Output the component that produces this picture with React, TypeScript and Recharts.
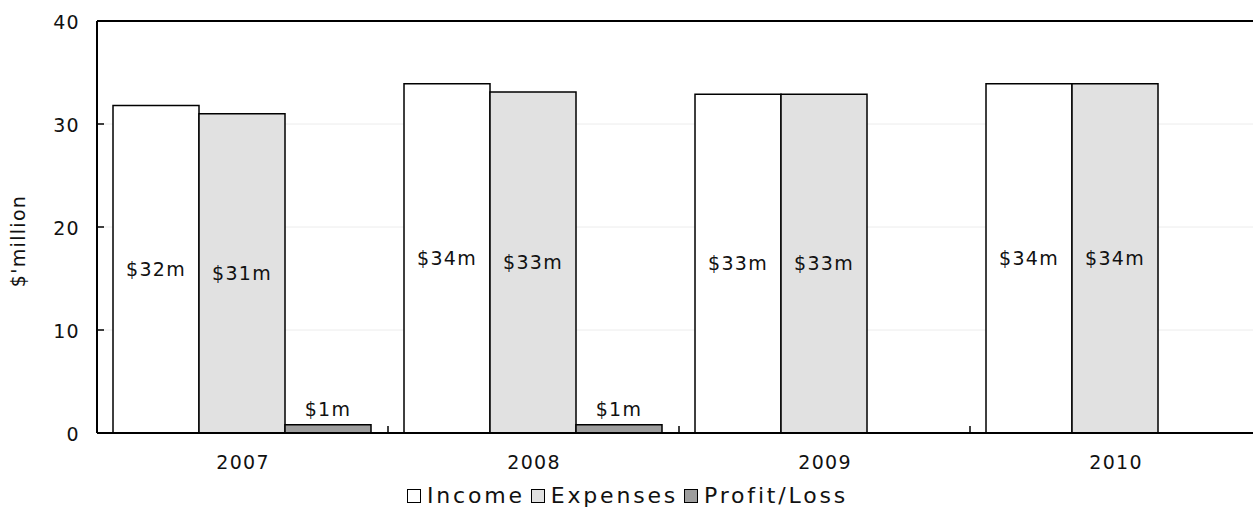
import React from 'react';
import { BarChart, Bar, XAxis, YAxis, CartesianGrid, Legend, LabelList, ReferenceLine } from 'recharts';

// Annual figures, $ million
const years = ['2007', '2008', '2009', '2010'];
const income = [31.8, 33.9, 32.9, 33.9];
const expenses = [31.0, 33.1, 32.9, 33.9];
const profitLoss = [0.8, 0.8, 0, 0];
const seriesNames = ['Income', 'Expenses', 'Profit/Loss'];
const yTicks = [0, 10, 20, 30, 40];

const data = years.map((year, i) => ({
  year,
  income: income[i],
  expenses: expenses[i],
  profit: profitLoss[i],
}));

const FONT = '"DejaVu Sans", Verdana, sans-serif';
const textStyle = { fontSize: 19, letterSpacing: 1.3, fill: '#111' };

const money = (v: any) => (Number(v) > 0 ? `$${Math.round(Number(v))}m` : '');

function YTick({ x, y, payload }: any) {
  return (
    <g>
      <line x1={x} x2={x + 7} y1={y} y2={y} stroke="#000" strokeWidth={1.5} />
      <text x={x - 17} y={y + 8} textAnchor="end" style={textStyle}>
        {payload.value}
      </text>
    </g>
  );
}

// year label at the band centre, small inward tick at the band's right edge
function XTick({ x, y, width, payload }: any) {
  const half = Number(width) / years.length / 2;
  return (
    <g>
      {half > 0 && (
        <line x1={x + half} x2={x + half} y1={y} y2={y - 7} stroke="#000" strokeWidth={1.5} />
      )}
      <text x={x + 0.6} y={y + 36} textAnchor="middle" style={textStyle}>
        {payload.value}
      </text>
    </g>
  );
}

function YLabel({ viewBox }: any) {
  const cx = viewBox.x + 25;
  const cy = viewBox.y + viewBox.height / 2 + 14;
  return (
    <text x={cx} y={cy} transform={`rotate(-90 ${cx} ${cy})`} textAnchor="middle" style={textStyle}>
      $'million
    </text>
  );
}

function LegendRow({ payload }: any) {
  const items = [...(payload || [])].sort(
    (a: any, b: any) => seriesNames.indexOf(a.value) - seriesNames.indexOf(b.value),
  );
  return (
    <div
      style={{
        display: 'flex',
        justifyContent: 'center',
        alignItems: 'center',
        fontSize: 22,
        letterSpacing: 2.8,
        color: '#111',
        fontFamily: FONT,
      }}
    >
      {items.map((entry: any) => (
        <span key={entry.value} style={{ display: 'flex', alignItems: 'center', marginRight: 6 }}>
          <span
            style={{
              width: 12,
              height: 12,
              border: '1.5px solid #000',
              background: entry.color,
              marginRight: 6,
              display: 'inline-block',
            }}
          />
          {entry.value}
        </span>
      ))}
    </div>
  );
}

export default function App() {
  return (
    <div
      style={{
        position: 'absolute',
        left: 0,
        top: 0,
        width: 1253,
        height: 512,
        overflow: 'hidden',
        background: '#fff',
        fontFamily: FONT,
      }}
    >
      <BarChart
        width={1280}
        height={512}
        data={data}
        margin={{ top: 21, right: 19, bottom: 0, left: 0 }}
        barCategoryGap="5.5%"
        barGap={0}
      >
        <CartesianGrid vertical={false} stroke="#ececec" />
        <XAxis
          dataKey="year"
          height={50}
          interval={0}
          tickSize={0}
          tickMargin={0}
          tickLine={false}
          axisLine={{ stroke: '#000', strokeWidth: 2 }}
          tick={<XTick />}
        />
        <YAxis
          width={97}
          domain={[0, 40]}
          ticks={yTicks}
          tickSize={0}
          tickMargin={0}
          tickLine={false}
          axisLine={{ stroke: '#000', strokeWidth: 2 }}
          tick={<YTick />}
          label={<YLabel />}
        />
        <ReferenceLine y={40} stroke="#000" strokeWidth={2} />
        <Legend verticalAlign="bottom" height={29} content={<LegendRow />} />
        <Bar dataKey="income" name={seriesNames[0]} fill="#ffffff" stroke="#000" strokeWidth={1.5} isAnimationActive={false}>
          <LabelList dataKey="income" position="center" formatter={money} style={textStyle} />
        </Bar>
        <Bar dataKey="expenses" name={seriesNames[1]} fill="#e1e1e1" stroke="#000" strokeWidth={1.5} isAnimationActive={false}>
          <LabelList dataKey="expenses" position="center" formatter={money} style={textStyle} />
        </Bar>
        <Bar dataKey="profit" name={seriesNames[2]} fill="#9e9e9e" stroke="#000" strokeWidth={1.5} isAnimationActive={false}>
          <LabelList dataKey="profit" position="top" offset={9} formatter={money} style={textStyle} />
        </Bar>
      </BarChart>
    </div>
  );
}
